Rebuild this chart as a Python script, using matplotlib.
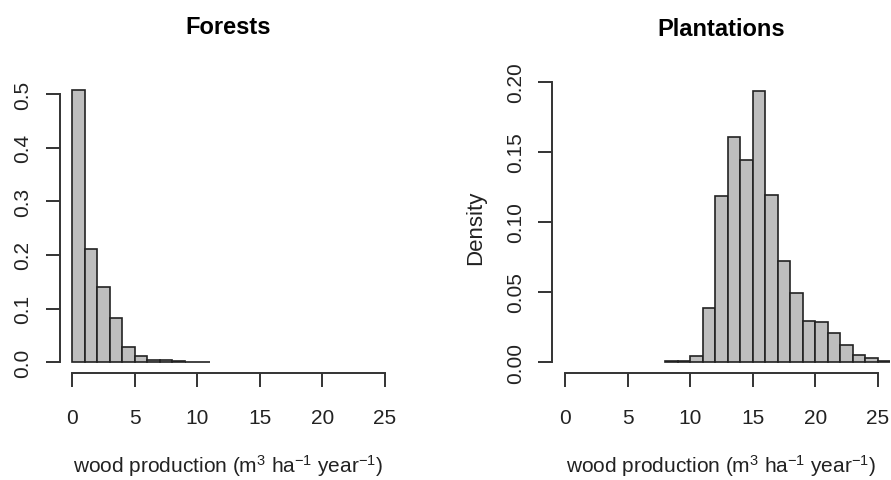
import numpy as np
import matplotlib
matplotlib.use("Agg")
import matplotlib.pyplot as plt

plt.rcParams["font.family"] = ["Liberation Sans", "DejaVu Sans"]
plt.rcParams["mathtext.fontset"] = "custom"
plt.rcParams["mathtext.rm"] = "Liberation Sans"
plt.rcParams["mathtext.it"] = "Liberation Sans"

# bin left edges (width 1) and densities
forest_bins = [0, 1, 2, 3, 4, 5, 6, 7, 8, 9, 10]
forest_density = [0.508, 0.212, 0.140, 0.082, 0.029, 0.012, 0.004, 0.003,
                  0.002, 0.0006, 0.0003]

plant_bins = [8, 9, 10, 11, 12, 13, 14, 15, 16, 17, 18, 19, 20, 21, 22, 23,
              24, 25]
plant_density = [0.0005, 0.001, 0.0047, 0.0385, 0.1187, 0.1607, 0.144,
                 0.193, 0.119, 0.0724, 0.0493, 0.029, 0.0283, 0.0209,
                 0.0125, 0.0054, 0.0033, 0.001]

x_ticks = [0, 5, 10, 15, 20, 25]
forest_yticks = [0.0, 0.1, 0.2, 0.3, 0.4, 0.5]
plant_yticks = [0.00, 0.05, 0.10, 0.15, 0.20]

xlabel = r"wood production (m$^{3}$ ha$^{-1}$ year$^{-1}$)"

fig = plt.figure(figsize=(8.91, 4.81), dpi=100)
ax1 = fig.add_axes([0.0668, 0.2225, 0.3793, 0.611])
ax2 = fig.add_axes([0.620, 0.2225, 0.3793, 0.608])

panels = [
    (ax1, forest_bins, forest_density, forest_yticks, "Forests", "%.1f", ""),
    (ax2, plant_bins, plant_density, plant_yticks, "Plantations", "%.2f", "Density"),
]

for ax, bins, dens, yt, title, fmt, ylab in panels:
    ax.bar(bins, dens, width=1, align="edge", color="#bebebe",
           edgecolor="#222222", linewidth=1.2)
    ymax = max(dens)
    ax.set_xlim(-1, 26)
    ax.set_ylim(-0.04 * ymax, 1.04 * ymax)
    for s in ["top", "right"]:
        ax.spines[s].set_visible(False)
    for s in ["left", "bottom"]:
        ax.spines[s].set_linewidth(1.4)
        ax.spines[s].set_color("#333333")
    ax.spines["bottom"].set_bounds(0, 25)
    ax.spines["left"].set_bounds(yt[0], yt[-1])
    ax.set_xticks(x_ticks)
    ax.set_yticks(yt)
    ax.set_yticklabels([fmt % v for v in yt], rotation=90, va="center")
    ax.tick_params(axis="both", direction="out", length=10, width=1.4,
                   color="#333333", labelsize=15, labelcolor="#222222")
    ax.tick_params(axis="x", pad=15)
    ax.tick_params(axis="y", pad=10)
    ax.set_title(title, fontsize=17, fontweight="bold", pad=33)
    ax.set_xlabel(xlabel, fontsize=15, labelpad=18, color="#222222")
    if ylab:
        ax.set_ylabel(ylab, fontsize=16, labelpad=14, color="#222222")

fig.savefig("out.png", dpi=100)
